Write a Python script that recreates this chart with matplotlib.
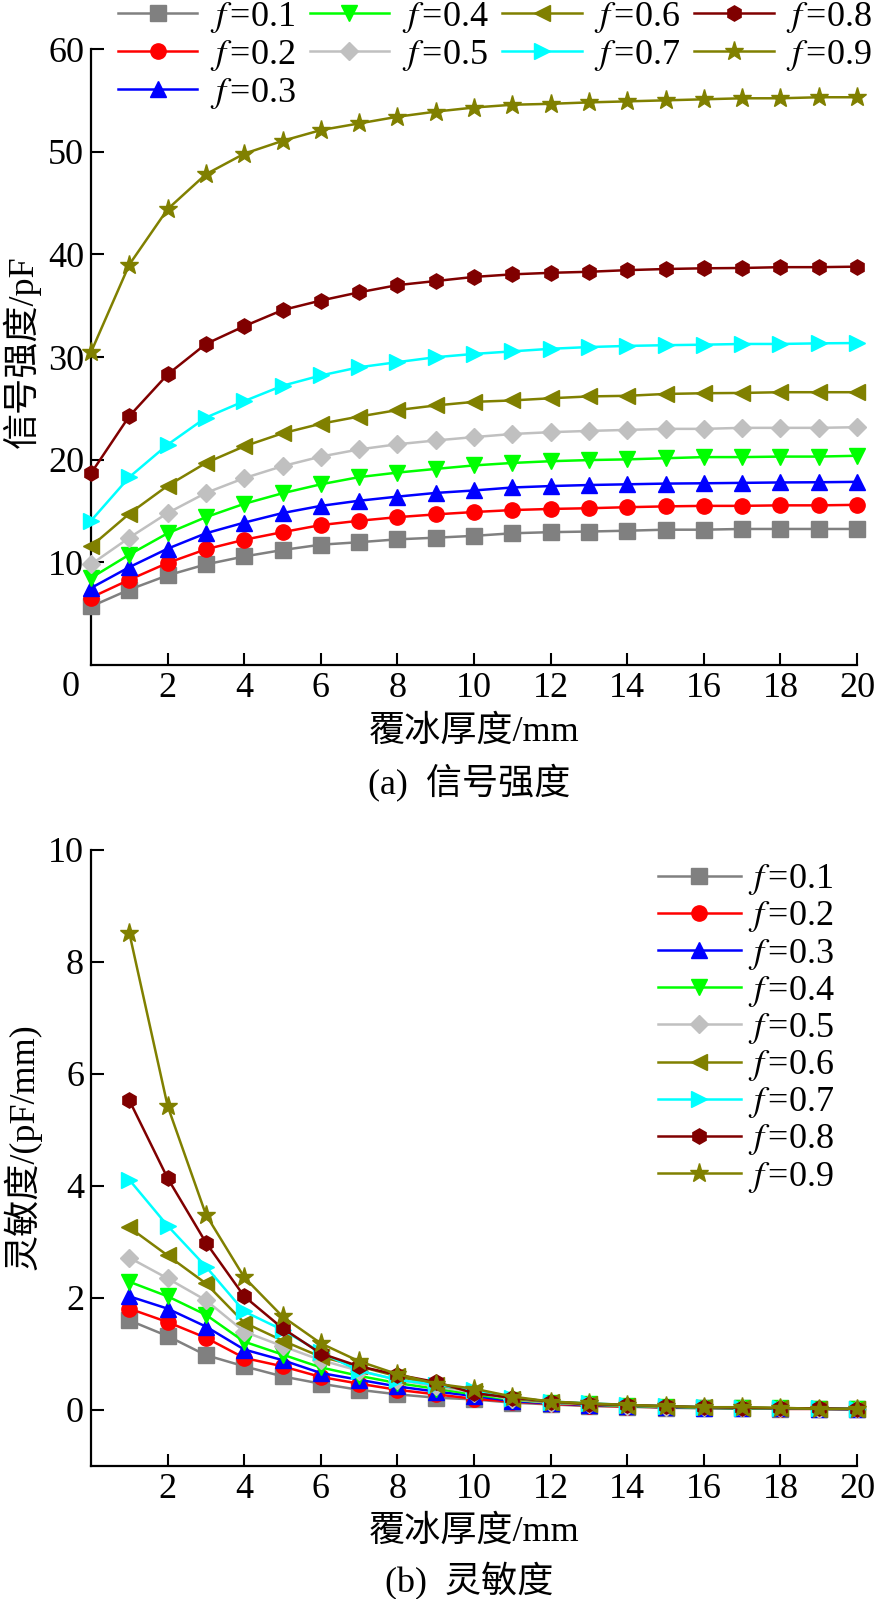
import matplotlib
matplotlib.use("Agg")
import matplotlib.pyplot as plt

plt.rcParams['font.family'] = ['Liberation Serif', 'Noto Sans CJK SC']
plt.rcParams['mathtext.fontset'] = 'stix'
plt.rcParams['axes.unicode_minus'] = False

# ---- data ----
labels = ['$f\\,$=0.1', '$f\\,$=0.2', '$f\\,$=0.3', '$f\\,$=0.4', '$f\\,$=0.5',
          '$f\\,$=0.6', '$f\\,$=0.7', '$f\\,$=0.8', '$f\\,$=0.9']
colors = ['#808080', '#ff0000', '#0000ff', '#00ff00', '#c0c0c0',
          '#808000', '#00ffff', '#800000', '#808000']
markers = ['s', 'o', '^', 'v', 'D', '<', '>', 'h', '*']

thick_a = list(range(0, 21))
signal_01 = [5.7, 7.34, 8.73, 9.8, 10.57, 11.2, 11.72, 11.96, 12.24, 12.4, 12.58,
             12.83, 12.94, 13.0, 13.08, 13.18, 13.18, 13.25, 13.25, 13.25, 13.25]
signal_02 = [6.57, 8.3, 9.94, 11.27, 12.2, 12.94, 13.63, 14.05, 14.4, 14.67, 14.9,
             15.09, 15.2, 15.27, 15.37, 15.45, 15.5, 15.5, 15.55, 15.55, 15.6]
signal_03 = [7.5, 9.53, 11.33, 12.83, 13.87, 14.8, 15.5, 16.0, 16.4, 16.76, 17.0,
             17.29, 17.43, 17.53, 17.6, 17.67, 17.7, 17.74, 17.78, 17.8, 17.84]
signal_04 = [8.48, 10.75, 12.83, 14.4, 15.7, 16.73, 17.6, 18.3, 18.74, 19.1, 19.44,
             19.68, 19.85, 19.96, 20.03, 20.14, 20.25, 20.25, 20.3, 20.3, 20.38]
signal_05 = [9.8, 12.4, 14.8, 16.76, 18.2, 19.37, 20.3, 21.0, 21.5, 21.87, 22.2,
             22.5, 22.68, 22.8, 22.9, 23.0, 23.0, 23.1, 23.1, 23.1, 23.16]
signal_06 = [11.55, 14.74, 17.46, 19.68, 21.3, 22.57, 23.5, 24.2, 24.83, 25.28, 25.63,
             25.77, 25.98, 26.16, 26.22, 26.4, 26.47, 26.5, 26.57, 26.57, 26.57]
signal_07 = [14.05, 18.3, 21.46, 24.1, 25.7, 27.2, 28.2, 29.0, 29.5, 29.98, 30.3,
             30.55, 30.8, 30.97, 31.08, 31.15, 31.2, 31.27, 31.27, 31.33, 31.36]
signal_08 = [18.67, 24.24, 28.3, 31.27, 33.0, 34.57, 35.5, 36.3, 37.0, 37.4, 37.8,
             38.05, 38.2, 38.3, 38.46, 38.57, 38.64, 38.67, 38.75, 38.75, 38.8]
signal_09 = [30.47, 39.0, 44.4, 47.8, 49.8, 51.05, 52.1, 52.75, 53.4, 53.9, 54.3,
             54.57, 54.66, 54.8, 54.9, 55.0, 55.1, 55.2, 55.2, 55.3, 55.3]

thick_b = list(range(1, 21))
sens_01 = [1.6, 1.32, 0.98, 0.78, 0.6, 0.47, 0.36, 0.28, 0.22, 0.19,
           0.13, 0.1, 0.07, 0.06, 0.04, 0.03, 0.03, 0.02, 0.02, 0.01]
sens_02 = [1.81, 1.57, 1.29, 0.93, 0.78, 0.59, 0.47, 0.36, 0.28, 0.2,
           0.15, 0.11, 0.08, 0.06, 0.05, 0.04, 0.03, 0.02, 0.02, 0.01]
sens_03 = [2.03, 1.81, 1.49, 1.08, 0.89, 0.66, 0.54, 0.42, 0.33, 0.25,
           0.16, 0.12, 0.09, 0.07, 0.05, 0.04, 0.03, 0.03, 0.02, 0.01]
sens_04 = [2.29, 2.03, 1.7, 1.22, 0.99, 0.76, 0.61, 0.48, 0.38, 0.28,
           0.18, 0.13, 0.1, 0.07, 0.06, 0.04, 0.03, 0.03, 0.02, 0.02]
sens_05 = [2.72, 2.35, 1.96, 1.4, 1.14, 0.89, 0.7, 0.54, 0.42, 0.31,
           0.19, 0.13, 0.1, 0.08, 0.06, 0.05, 0.04, 0.03, 0.02, 0.02]
sens_06 = [3.26, 2.76, 2.26, 1.56, 1.24, 0.95, 0.78, 0.6, 0.45, 0.34,
           0.2, 0.14, 0.1, 0.08, 0.06, 0.05, 0.04, 0.03, 0.02, 0.02]
sens_07 = [4.11, 3.29, 2.56, 1.76, 1.43, 1.03, 0.7, 0.54, 0.45, 0.36,
           0.22, 0.15, 0.12, 0.09, 0.07, 0.05, 0.04, 0.03, 0.03, 0.02]
sens_08 = [5.53, 4.14, 2.99, 2.03, 1.46, 1.01, 0.78, 0.63, 0.5, 0.3,
           0.22, 0.15, 0.11, 0.09, 0.07, 0.05, 0.04, 0.03, 0.03, 0.02]
sens_09 = [8.52, 5.43, 3.49, 2.37, 1.67, 1.19, 0.87, 0.64, 0.47, 0.38,
           0.24, 0.15, 0.12, 0.09, 0.07, 0.05, 0.05, 0.04, 0.02, 0.02]

signals = [signal_01, signal_02, signal_03, signal_04, signal_05,
           signal_06, signal_07, signal_08, signal_09]
sens = [sens_01, sens_02, sens_03, sens_04, sens_05,
        sens_06, sens_07, sens_08, sens_09]

W, H = 877, 1599
fig = plt.figure(figsize=(W / 100, H / 100), dpi=100)

FS = 26
ax1 = fig.add_axes([91 / W, 1 - 665 / H, 766 / W, 616 / H])
ax2 = fig.add_axes([91 / W, 1 - 1466 / H, 766 / W, 616 / H])


def style(ax):
    for s in ['top', 'right']:
        ax.spines[s].set_visible(False)
    for s in ['left', 'bottom']:
        ax.spines[s].set_linewidth(1.6)
    ax.tick_params(direction='in', length=9, width=1.5, labelsize=FS, pad=5)


def draw(ax, x, ys):
    for i, y in enumerate(ys):
        ms = 14 if markers[i] == '*' else 11
        if markers[i] == 'D':
            ms = 9
        ax.plot(x, y, color=colors[i], marker=markers[i], markersize=ms,
                linewidth=1.8, label=labels[i], clip_on=False, zorder=3 + i)


# (a) signal strength
draw(ax1, thick_a, signals)
style(ax1)
ax1.set_xlim(0, 20)
ax1.set_ylim(0, 60)
ax1.set_xticks(range(2, 21, 2))
ax1.set_yticks(range(10, 61, 10))
ax1.annotate('0', xy=(0, 0), xycoords=('data', 'axes fraction'),
             xytext=(-15, -4), textcoords='offset points',
             ha='center', va='top', fontsize=FS)

h, l = ax1.get_legend_handles_labels()
fig.legend(h, l, ncol=4, loc='upper left', bbox_to_anchor=(118 / W, 1.0),
           frameon=False, fontsize=FS, handlelength=2.2, handletextpad=0.35,
           columnspacing=0.38, labelspacing=0.08, borderpad=0, borderaxespad=0)

# (b) sensitivity
draw(ax2, thick_b, sens)
style(ax2)
ax2.set_xlim(0, 20)
ax2.set_ylim(-1, 10)
ax2.set_xticks(range(2, 21, 2))
ax2.set_yticks(range(0, 11, 2))
ax2.legend(loc='upper left', bbox_to_anchor=(0.74, 0.98), frameon=False,
           fontsize=FS, handlelength=2.3, handletextpad=0.2,
           labelspacing=0.06, borderpad=0, borderaxespad=0)

# axis labels and captions
fig.text(22 / W, 1 - 352 / H, '信号强度/pF', rotation=90, ha='center', va='center', fontsize=FS)
fig.text(22 / W, 1 - 1147 / H, '灵敏度/(pF/mm)', rotation=90, ha='center', va='center', fontsize=FS)
fig.text(474 / W, 1 - 732 / H, '覆冰厚度/mm', ha='center', va='center', fontsize=FS)
fig.text(469 / W, 1 - 783 / H, '(a)  信号强度', ha='center', va='center', fontsize=FS)
fig.text(474 / W, 1 - 1532 / H, '覆冰厚度/mm', ha='center', va='center', fontsize=FS)
fig.text(469 / W, 1 - 1581 / H, '(b)  灵敏度', ha='center', va='center', fontsize=FS)

fig.savefig('out.png', dpi=100)
